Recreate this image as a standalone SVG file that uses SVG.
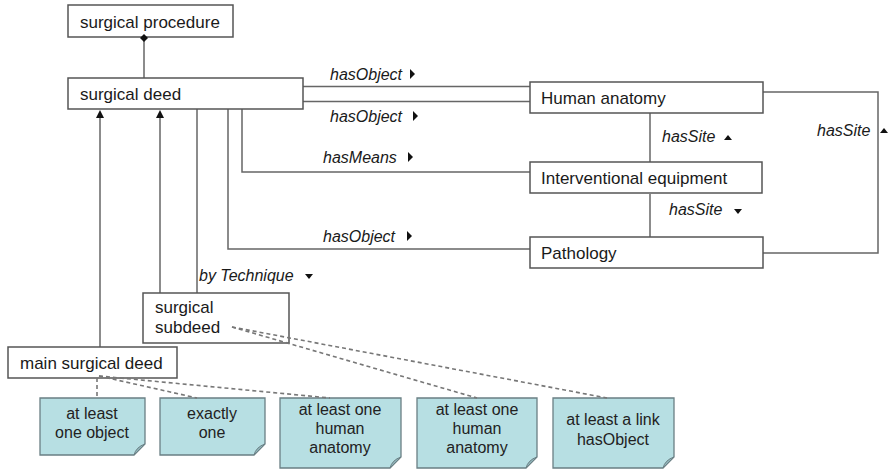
<svg xmlns="http://www.w3.org/2000/svg" width="889" height="470" viewBox="0 0 889 470">
<style>
.box{fill:#fff;stroke:#555;stroke-width:1.5}
.t{font-family:"Liberation Sans",Arial,sans-serif;font-size:17px;fill:#1a1a1a}
.lab{font-family:"Liberation Sans",Arial,sans-serif;font-size:16px;font-style:italic;fill:#1a1a1a}
.nt{font-family:"Liberation Sans",Arial,sans-serif;font-size:16px;fill:#222;text-anchor:middle}
.ln{fill:none;stroke:#666;stroke-width:1.5}
.dash{fill:none;stroke:#777;stroke-width:1.6;stroke-dasharray:4 3}
.note{fill:#b7dfe3;stroke:#6a7f84;stroke-width:1.3}
.fold{fill:#8fb4b9;stroke:#6a7f84;stroke-width:1}
.tri{fill:#111}
</style>
<g id="connectors">
<path class="ln" d="M144,38 V78"/>
<path class="ln" d="M303,86.5 H530"/>
<path class="ln" d="M303,101.5 H530"/>
<path class="ln" d="M242,109 V172 H530"/>
<path class="ln" d="M228,109 V249 H530"/>
<path class="ln" d="M197,109 V293"/>
<path class="ln" d="M160,293 V118"/>
<path d="M156,118 L160,110 L164,118 Z" fill="#111"/>
<path class="ln" d="M100,347 V118"/>
<path d="M96,118 L100,110 L104,118 Z" fill="#111"/>
<path class="ln" d="M650,113 V162"/>
<path class="ln" d="M650,194 V237"/>
<path class="ln" d="M763,92 H878 V253 H763"/>
</g>
<g id="labels">
<text class="lab" x="330" y="80">hasObject</text>
<path class="tri" d="M410,69 L415,74 L410,79 Z"/>
<text class="lab" x="330" y="122">hasObject</text>
<path class="tri" d="M413,111 L418,116 L413,121 Z"/>
<text class="lab" x="323" y="163">hasMeans</text>
<path class="tri" d="M408,152 L413,157 L408,162 Z"/>
<text class="lab" x="323" y="242">hasObject</text>
<path class="tri" d="M407,231 L412,236 L407,241 Z"/>
<text class="lab" x="199" y="281">by Technique</text>
<path class="tri" d="M305,274 L313,274 L309,279 Z"/>
<text class="lab" x="662" y="142">hasSite</text>
<path class="tri" d="M724,140 L732,140 L728,135 Z"/>
<text class="lab" x="669" y="215">hasSite</text>
<path class="tri" d="M734,209 L742,209 L738,214 Z"/>
<text class="lab" x="817" y="136">hasSite</text>
<path class="tri" d="M880,133 L888,133 L884,128 Z"/>
</g>
<g id="surgical-procedure">
<rect class="box" x="68" y="5" width="165" height="32"/>
<text class="t" x="80" y="28">surgical procedure</text>
</g>
<g id="surgical-deed">
<rect class="box" x="68" y="78" width="235" height="31"/>
<text class="t" x="80" y="100">surgical deed</text>
</g>
<g id="human-anatomy">
<rect class="box" x="530" y="82" width="233" height="31"/>
<text class="t" x="541" y="104">Human anatomy</text>
</g>
<g id="interventional-equipment">
<rect class="box" x="530" y="162" width="232" height="31"/>
<text class="t" x="541" y="184">Interventional equipment</text>
</g>
<g id="pathology">
<rect class="box" x="530" y="237" width="233" height="31"/>
<text class="t" x="541" y="259">Pathology</text>
</g>
<g id="surgical-subdeed">
<rect class="box" x="143" y="293" width="146" height="50"/>
<text class="t" x="155" y="313">surgical</text>
<text class="t" x="155" y="333">subdeed</text>
</g>
<g id="main-surgical-deed">
<rect class="box" x="8" y="347" width="169" height="31"/>
<text class="t" x="20" y="369">main surgical deed</text>
</g>
<g id="note-1">
<path class="note" d="M40,398 H145 V444 L134,455 H40 Z"/>
<path class="fold" d="M145,444 L134,455 Q136,447 145,444 Z"/>
<text class="nt" x="92" y="419">at least</text>
<text class="nt" x="92" y="438">one object</text>
</g>
<g id="note-2">
<path class="note" d="M160,398 H265 V444 L254,455 H160 Z"/>
<path class="fold" d="M265,444 L254,455 Q256,447 265,444 Z"/>
<text class="nt" x="212" y="419">exactly</text>
<text class="nt" x="212" y="438">one</text>
</g>
<g id="note-3">
<path class="note" d="M280,398 H401 V457 L390,468 H280 Z"/>
<path class="fold" d="M401,457 L390,468 Q392,460 401,457 Z"/>
<text class="nt" x="340" y="415">at least one</text>
<text class="nt" x="340" y="434">human</text>
<text class="nt" x="340" y="453">anatomy</text>
</g>
<g id="note-4">
<path class="note" d="M417,398 H537 V457 L526,468 H417 Z"/>
<path class="fold" d="M537,457 L526,468 Q528,460 537,457 Z"/>
<text class="nt" x="477" y="415">at least one</text>
<text class="nt" x="477" y="434">human</text>
<text class="nt" x="477" y="453">anatomy</text>
</g>
<g id="note-5">
<path class="note" d="M553,398 H674 V457 L663,468 H553 Z"/>
<path class="fold" d="M674,457 L663,468 Q665,460 674,457 Z"/>
<text class="nt" x="613" y="425">at least a link</text>
<text class="nt" x="613" y="445">hasObject</text>
</g>
<g id="note-connectors">
<path d="M144,34 L148,38 L144,42 L140,38 Z" fill="#111"/>
<path class="dash" d="M97,378 V398"/>
<path class="dash" d="M99,376 L197,398"/>
<path class="dash" d="M99,376 L330,398"/>
<path class="dash" d="M232,327 L477,398"/>
<path class="dash" d="M232,327 L607,398"/>
</g>
</svg>
